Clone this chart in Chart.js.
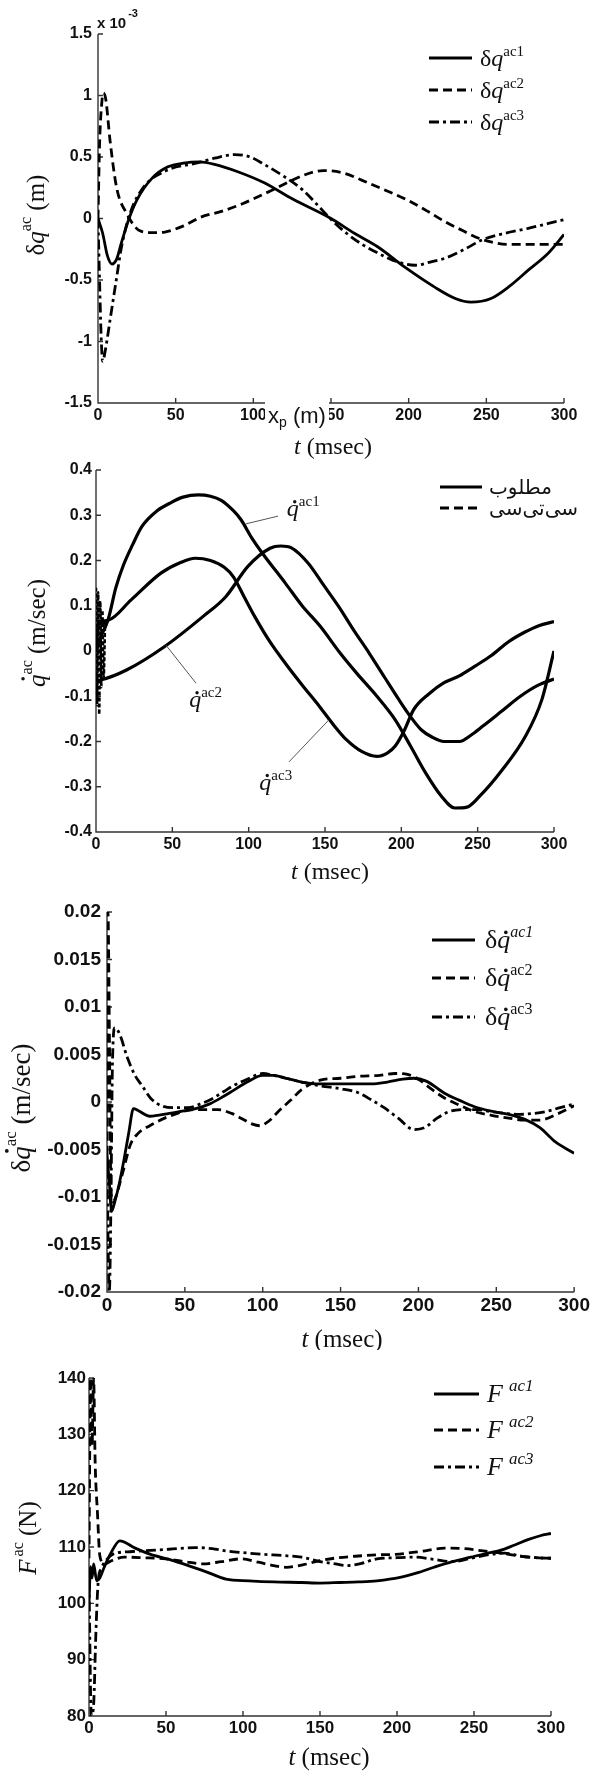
<!DOCTYPE html>
<html>
<head>
<meta charset="utf-8">
<script src="https://cdn.jsdelivr.net/npm/chart.js@4.4.0/dist/chart.umd.min.js"></script>
<style>
html, body { margin: 0; padding: 0; background: #fff; }
#page { position: relative; width: 592px; height: 1773px; overflow: hidden; background: #fff; }
.box { position: absolute; left: 0; width: 592px; }
</style>
</head>
<body>
<div id="page">
  <div class="box" style="top:0;height:465px"><canvas id="c1"></canvas></div>
  <div class="box" style="top:440px;height:450px"><canvas id="c2"></canvas></div>
  <div class="box" style="top:880px;height:470px"><canvas id="c3"></canvas></div>
  <div class="box" style="top:1320px;height:453px"><canvas id="c4"></canvas></div>
</div>
<script>
const T_TICKS = [0, 50, 100, 150, 200, 250, 300];

// chart 1: deltaq^ac, in units of 1e-3 m   [t (msec), value]
const Y1_TICKS = [-1.5, -1, -0.5, 0, 0.5, 1, 1.5];
const dq_ac1 = [[0,0],[3,-0.12],[6,-0.3],[9,-0.37],[12,-0.33],[15,-0.2],[20,0],[25,0.15],[35,0.33],[45,0.42],[55,0.45],[65,0.46],[75,0.44],[90,0.38],[107,0.29],[125,0.16],[150,0],[165,-0.12],[180,-0.23],[198,-0.4],[217,-0.56],[230,-0.65],[240,-0.68],[253,-0.65],[265,-0.55],[277,-0.42],[290,-0.28],[300,-0.13]];
const dq_ac2 = [[0,0],[1,0.6],[2.5,0.95],[3.5,1.02],[5,0.97],[7.7,0.64],[12,0.25],[18.5,0.04],[27,-0.1],[35,-0.115],[43,-0.11],[55,-0.06],[66,0.01],[80,0.06],[93,0.12],[112,0.23],[132,0.35],[145,0.39],[158,0.37],[170,0.31],[185,0.23],[200,0.145],[212,0.06],[224,-0.03],[235,-0.1],[243,-0.15],[253,-0.19],[263,-0.21],[280,-0.21],[300,-0.21]];
const dq_ac3 = [[0,0],[1,-0.5],[2,-0.95],[3,-1.16],[5,-1.05],[7.7,-0.83],[12,-0.48],[15,-0.24],[20.6,0.04],[29,0.25],[44,0.39],[63,0.45],[75,0.49],[88,0.52],[98,0.5],[107,0.44],[120,0.34],[132,0.23],[142,0.1],[151,-0.02],[160,-0.12],[170,-0.21],[180,-0.28],[190,-0.34],[204,-0.38],[215,-0.35],[224,-0.32],[236,-0.25],[248,-0.17],[262,-0.12],[277,-0.08],[290,-0.04],[300,-0.01]];

// chart 2: qdot^ac (m/sec)
const Y2_TICKS = [-0.4, -0.3, -0.2, -0.1, 0, 0.1, 0.2, 0.3, 0.4];
const v_ac1 = [[0,0],[3,0.03],[8,0.07],[13,0.14],[18,0.19],[24,0.235],[30,0.275],[40,0.31],[48,0.326],[57,0.34],[67,0.345],[75,0.342],[82,0.333],[90,0.31],[95,0.29],[102,0.25],[109,0.216],[124,0.15],[135,0.1],[147,0.054],[160,-0.005],[171,-0.05],[184,-0.1],[196,-0.152],[206,-0.21],[216,-0.27],[226,-0.32],[235,-0.347],[243,-0.345],[251,-0.322],[266,-0.263],[281,-0.19],[292,-0.108],[300,0]];
const v_ac2 = [[0,-0.065],[3,-0.064],[20,-0.042],[45,0.01],[70,0.076],[85,0.12],[99.5,0.187],[114,0.227],[121,0.232],[128,0.228],[139,0.194],[149,0.146],[159,0.098],[169,0.045],[179,-0.005],[189,-0.058],[198.5,-0.108],[206,-0.145],[213,-0.174],[220,-0.19],[228,-0.2],[238,-0.2],[246,-0.185],[253,-0.167],[265,-0.135],[278,-0.1],[290,-0.075],[300,-0.062]];
const v_ac3 = [[0,0.02],[2,0.06],[8,0.068],[23,0.113],[42.5,0.172],[55,0.195],[65,0.205],[75,0.2],[84,0.185],[90,0.164],[97,0.12],[104,0.076],[114,0.02],[124,-0.027],[135,-0.075],[146.5,-0.123],[156,-0.165],[164,-0.196],[174,-0.222],[184,-0.233],[191,-0.225],[196,-0.21],[202,-0.175],[208,-0.13],[218,-0.095],[228,-0.07],[238,-0.055],[248,-0.034],[259,-0.01],[270,0.02],[281,0.042],[290,0.056],[300,0.065]];
const v_ctc = [[0,0.14],[0.7,-0.12],[1.4,0.13],[2.1,-0.14],[2.8,0.11],[3.5,-0.08],[4.2,0.09],[5,-0.06],[6,0.07]];
const V_NOTES = [
  { sup: 'ac1', at: [125, 0.298], from: [119.2, 0.298], to: [98.2, 0.281] },
  { sup: 'ac2', at: [61, -0.124], from: [65.5, -0.071], to: [45.8, 0.013] },
  { sup: 'ac3', at: [107, -0.307], from: [126.4, -0.245], to: [152.6, -0.152] },
];

// chart 3: deltaqdot^ac (m/sec)
const Y3_TICKS = [-0.02, -0.015, -0.01, -0.005, 0, 0.005, 0.01, 0.015, 0.02];
const dv_ac1 = [[0,-0.0055],[1.5,-0.0085],[3,-0.0115],[5,-0.0105],[8,-0.0085],[11,-0.006],[14,-0.0032],[17,-0.0007],[20,-0.0009],[27.5,-0.0015],[40,-0.0012],[47,-0.001],[57,-0.0007],[66,-0.0002],[75,0.0006],[81,0.0012],[90,0.0021],[100,0.0028],[107,0.0028],[115,0.0025],[125,0.0021],[137,0.0019],[150,0.0019],[161,0.0019],[170,0.0019],[180,0.0021],[190,0.0024],[197,0.0025],[205,0.0022],[217,0.0009],[226,0.0002],[236,-0.0005],[248,-0.001],[258,-0.0013],[268,-0.0018],[278,-0.0027],[288,-0.0042],[300,-0.0054]];
const dv_ac2 = [[0,-0.007],[0.6,0.02],[1.6,0.006],[2.5,-0.009],[4,-0.0105],[6,-0.0098],[10,-0.0075],[15,-0.0045],[20,-0.0033],[27.5,-0.0025],[40,-0.0015],[57,-0.0008],[71,-0.0008],[80,-0.0012],[86,-0.0017],[93,-0.0023],[98,-0.0025],[104,-0.002],[110,-0.001],[118,0.0002],[125,0.0013],[137,0.0023],[150,0.0025],[161,0.0027],[175,0.0028],[185,0.003],[193,0.0029],[200,0.0024],[208,0.0014],[217,0.0004],[226,-0.0003],[236,-0.001],[247,-0.0014],[258,-0.0017],[268,-0.0019],[278,-0.0019],[290,-0.0012],[300,-0.0004]];
const dv_ac3 = [[0,-0.007],[1.5,-0.02],[2.5,-0.011],[3.5,0.004],[5,0.0078],[8,0.0072],[13,0.0047],[18,0.0028],[22.6,0.0017],[28,0.0004],[35,-0.0004],[43,-0.0006],[52,-0.0006],[60,-0.0002],[66,0.0002],[75,0.0011],[81,0.0017],[90,0.0024],[100,0.003],[107,0.0028],[115,0.0025],[125,0.0021],[137,0.0017],[150,0.0014],[161,0.001],[170,0.0002],[178,-0.0006],[187,-0.0017],[197,-0.0029],[204,-0.0027],[212,-0.0017],[220,-0.001],[229,-0.0008],[238,-0.0008],[246,-0.001],[256,-0.0012],[265,-0.0013],[274,-0.0012],[282,-0.001],[291,-0.0006],[300,-0.0002]];

// chart 4: F^ac (N)
const Y4_TICKS = [80, 90, 100, 110, 120, 130, 140];
const f_ac1 = [[0,100],[1,106.5],[2,104.5],[3,107],[5,104],[7,104.5],[10,106.5],[14,108.8],[20,111.1],[30,109.8],[40,108.7],[52,107.8],[64.5,106.7],[77,105.5],[89,104.3],[104,104],[120,103.8],[138,103.7],[150,103.6],[163,103.7],[175,103.8],[187,104],[202,104.6],[213,105.4],[224,106.4],[236,107.4],[248,108.2],[257,108.8],[266,109.3],[276,110.3],[285,111.3],[293,112],[300,112.4]];
const f_ac2 = [[0,108],[1,140],[2,128],[3,140],[4,125],[5.5,116],[7,108.5],[10,107],[15,107.6],[23,108.2],[35,108.1],[50,107.9],[62,107.4],[74,107],[86,107.4],[99,107.9],[110,107.3],[120,106.7],[128,106.4],[140,106.9],[150,107.6],[162,108.1],[175,108.4],[187,108.6],[199,108.7],[215,109.2],[231,109.8],[244,109.7],[256,109.3],[268,108.9],[280,108.4],[290,108.1],[300,108]];
const f_ac3 = [[0,104],[1.5,80],[3,82],[4.5,95],[6,104],[8,106.2],[11,107.6],[15.5,108.7],[28,109.2],[40,109.4],[52,109.6],[69,109.9],[80,109.7],[89,109.3],[100,109],[113.6,108.7],[125,108.5],[138,108.2],[150,107.4],[160,107],[167.5,106.7],[177,107.1],[187,107.9],[200,108.1],[211.7,108.2],[224,107.8],[236,107.4],[248,108],[261,108.7],[270,108.9],[280,108.4],[290,108.1],[300,108]];

const SERIF = '"Liberation Serif", "Times New Roman", serif';
const SANS = '"Liberation Sans", Arial, sans-serif';
const SOLID = [], DASH = [9, 5], DASHDOT = [10, 4, 3, 4];

const F = (size, style = '', fam = SERIF) => `${style} ${size}px ${fam}`;
const P = (t, f, o = {}) => Object.assign({ t, f }, o);

// draws a row of text pieces (for sub/superscripts and the dot over q)
function rich(ctx, parts, x, y, align) {
  let w = 0;
  parts.forEach(p => { ctx.font = p.f; p.w = ctx.measureText(p.t).width + (p.pre || 0); w += p.w; });
  let cx = align === 'center' ? x - w / 2 : x;
  parts.forEach(p => {
    ctx.font = p.f;
    ctx.fillText(p.t, cx + (p.pre || 0), y + (p.dy || 0));
    if (p.dot) {
      ctx.beginPath();
      ctx.arc(cx + p.w * 0.66, y - p.dot * 0.6, p.dot * 0.07, 0, Math.PI * 2);
      ctx.fill();
    }
    cx += p.w;
  });
}

const tTitle = size => [P('t', F(size, 'italic')), P(' (msec)', F(size))];

function decor(cfg) {
  return {
    id: 'decor',
    beforeDatasetsDraw(chart) {
      const { ctx, chartArea: a, scales: { x, y } } = chart;
      ctx.save();
      ctx.strokeStyle = '#333';
      ctx.lineWidth = 1.4;
      ctx.beginPath();
      ctx.moveTo(a.left, a.top); ctx.lineTo(a.left, a.bottom); ctx.lineTo(a.right, a.bottom);
      x.ticks.forEach(t => { const px = x.getPixelForValue(t.value); ctx.moveTo(px, a.bottom); ctx.lineTo(px, a.bottom - 5); });
      y.ticks.forEach(t => { const py = y.getPixelForValue(t.value); ctx.moveTo(a.left, py); ctx.lineTo(a.left + 5, py); });
      ctx.stroke();
      ctx.restore();
    },
    afterDraw(chart) {
      const { ctx } = chart;
      ctx.save();
      ctx.fillStyle = '#111';
      ctx.textBaseline = 'middle';
      rich(ctx, tTitle(cfg.xTitle.size), cfg.xTitle.x, cfg.xTitle.y, 'center');
      ctx.save();
      ctx.translate(cfg.yTitle.x, cfg.yTitle.y);
      ctx.rotate(-Math.PI / 2);
      rich(ctx, cfg.yTitle.parts, 0, 0, 'center');
      ctx.restore();
      const L = cfg.legend;
      L.rows.forEach(r => {
        ctx.save();
        ctx.strokeStyle = '#000';
        ctx.lineWidth = 3;
        ctx.setLineDash(r.dash);
        ctx.beginPath(); ctx.moveTo(L.x0, r.y); ctx.lineTo(L.x1, r.y); ctx.stroke();
        ctx.restore();
        ctx.textBaseline = 'alphabetic';
        rich(ctx, r.parts, L.tx, r.y + (L.base || 8), 'left');
      });
      if (cfg.extra) cfg.extra(chart);
      ctx.restore();
    }
  };
}

function mkChart(id, cfg) {
  const tickFont = { family: SANS, weight: 'bold', size: cfg.fs };
  return new Chart(document.getElementById(id), {
    type: 'line',
    data: {
      datasets: cfg.series.map(s => ({
        data: s.data.map(([x, y]) => ({ x, y })),
        borderColor: '#000',
        borderWidth: s.lw || cfg.lw,
        borderDash: s.dash,
        pointRadius: 0,
        cubicInterpolationMode: 'monotone',
        fill: false,
      })),
    },
    options: {
      responsive: true,
      maintainAspectRatio: false,
      animation: false,
      layout: { padding: cfg.pad },
      plugins: { legend: { display: false }, tooltip: { enabled: false } },
      scales: {
        x: {
          type: 'linear', min: 0, max: 300,
          afterFit: s => { s.height = 30; },
          afterBuildTicks: s => { s.ticks = T_TICKS.map(v => ({ value: v })); },
          grid: { display: false, drawTicks: false },
          border: { display: false },
          ticks: { padding: cfg.xpad, color: '#111', font: tickFont, maxRotation: 0, autoSkip: false, callback: v => String(v) },
        },
        y: {
          type: 'linear', min: cfg.yTicks[0], max: cfg.yTicks[cfg.yTicks.length - 1],
          afterFit: s => { s.width = cfg.yw; },
          afterBuildTicks: s => { s.ticks = cfg.yTicks.map(v => ({ value: v })); },
          grid: { display: false, drawTicks: false },
          border: { display: false },
          ticks: { padding: cfg.ypad, color: '#111', font: tickFont, autoSkip: false, callback: v => String(v) },
        },
      },
    },
    plugins: [decor(cfg)],
  });
}

const legRow = (y, dash, parts) => ({ y, dash, parts });

// 1 ---------------------------------------------------------------
const dqSym = sup => [P('δ', F(24)), P('q', F(24, 'italic')), P(sup, F(15), { dy: -10 })];
mkChart('c1', {
  fs: 16, lw: 2.8, yw: 60, xpad: 3, ypad: 6,
  pad: { left: 38, right: 28, top: 34, bottom: 32 },
  yTicks: Y1_TICKS,
  series: [{ data: dq_ac1, dash: SOLID }, { data: dq_ac2, dash: DASH }, { data: dq_ac3, dash: DASHDOT }],
  xTitle: { x: 333, y: 448, size: 24 },
  yTitle: { x: 37, y: 215, parts: [P('δ', F(25)), P('q', F(25, 'italic')), P('ac', F(16), { dy: -10 }), P(' (m)', F(25))] },
  legend: { x0: 429, x1: 472, tx: 480, rows: [legRow(58, SOLID, dqSym('ac1')), legRow(90, DASH, dqSym('ac2')), legRow(122, DASHDOT, dqSym('ac3'))] },
  extra(chart) {
    const { ctx } = chart;
    ctx.textBaseline = 'alphabetic';
    rich(ctx, [P('x 10', F(15, 'bold', SANS)), P('-3', F(11, 'bold', SANS), { dy: -11, pre: 2 })], 97, 28, 'left');
    ctx.fillStyle = '#fff';
    ctx.fillRect(265, 400, 64, 24);
    ctx.fillStyle = '#111';
    rich(ctx, [P('x', F(22, '', SANS)), P('p', F(14, '', SANS), { dy: 4 }), P(' (m)', F(22, '', SANS))], 268, 423, 'left');
  },
});

// 2 ---------------------------------------------------------------
mkChart('c2', {
  fs: 16, lw: 3.2, yw: 60, xpad: 3, ypad: 4,
  pad: { left: 36, right: 38, top: 30, bottom: 28 },
  yTicks: Y2_TICKS,
  series: [{ data: v_ac1, dash: SOLID }, { data: v_ac2, dash: SOLID }, { data: v_ac3, dash: SOLID }, { data: v_ctc, dash: [4, 2], lw: 2.5 }],
  xTitle: { x: 330, y: 433, size: 24 },
  yTitle: { x: 38, y: 193, parts: [P('q', F(25, 'italic'), { dot: 25 }), P('ac', F(16), { dy: -10 }), P(' (m/sec)', F(25))] },
  legend: { x0: 440, x1: 482, tx: 489, base: 7, rows: [
    legRow(47, SOLID, [P('مطلوب', F(20, '', '"DejaVu Sans"'))]),
    legRow(68, DASH, [P('سی‌تی‌سی', F(20, '', '"DejaVu Sans"'))]),
  ] },
  extra(chart) {
    const { ctx, scales: { x, y } } = chart;
    const px = p => [x.getPixelForValue(p[0]), y.getPixelForValue(p[1])];
    ctx.strokeStyle = '#555';
    ctx.lineWidth = 1;
    ctx.textBaseline = 'alphabetic';
    V_NOTES.forEach(n => {
      const a = px(n.from), b = px(n.to), c = px(n.at);
      ctx.beginPath(); ctx.moveTo(a[0], a[1]); ctx.lineTo(b[0], b[1]); ctx.stroke();
      rich(ctx, [P('q', F(24, 'italic'), { dot: 24 }), P(n.sup, F(15), { dy: -10 })], c[0], c[1], 'left');
    });
  },
});

// 3 ---------------------------------------------------------------
const dvSym = (sup, st) => [P('δ', F(26)), P('q', F(26, 'italic'), { dot: 26 }), P(sup, F(16, st), { dy: -11 })];
mkChart('c3', {
  fs: 19, lw: 2.8, yw: 70, xpad: 2, ypad: 6,
  pad: { left: 37, right: 17, top: 32, bottom: 28 },
  yTicks: Y3_TICKS,
  series: [{ data: dv_ac1, dash: SOLID }, { data: dv_ac2, dash: DASH }, { data: dv_ac3, dash: DASHDOT }],
  xTitle: { x: 342, y: 460, size: 25 },
  yTitle: { x: 23, y: 228, parts: [P('δ', F(27)), P('q', F(27, 'italic'), { dot: 27 }), P('ac', F(17), { dy: -11 }), P(' (m/sec)', F(27))] },
  legend: { x0: 432, x1: 475, tx: 485, rows: [legRow(60, SOLID, dvSym('ac1', 'italic')), legRow(98, DASH, dvSym('ac2', '')), legRow(137, DASHDOT, dvSym('ac3', ''))] },
});

// 4 ---------------------------------------------------------------
const fSym = sup => [P('F', F(26, 'italic')), P(sup, F(17, 'italic'), { dy: -11, pre: 6 })];
mkChart('c4', {
  fs: 17, lw: 2.8, yw: 60, xpad: 2, ypad: 3,
  pad: { left: 29, right: 41, top: 58, bottom: 27 },
  yTicks: Y4_TICKS,
  series: [{ data: f_ac1, dash: SOLID }, { data: f_ac2, dash: DASH }, { data: f_ac3, dash: DASHDOT }],
  xTitle: { x: 329, y: 438, size: 25 },
  yTitle: { x: 29, y: 218, parts: [P('F', F(25, 'italic')), P('ac', F(16), { dy: -10, pre: 3 }), P(' (N)', F(25))] },
  legend: { x0: 434, x1: 479, tx: 487, rows: [legRow(74, SOLID, fSym('ac1')), legRow(110, DASH, fSym('ac2')), legRow(147, DASHDOT, fSym('ac3'))] },
});
</script>
</body>
</html>
